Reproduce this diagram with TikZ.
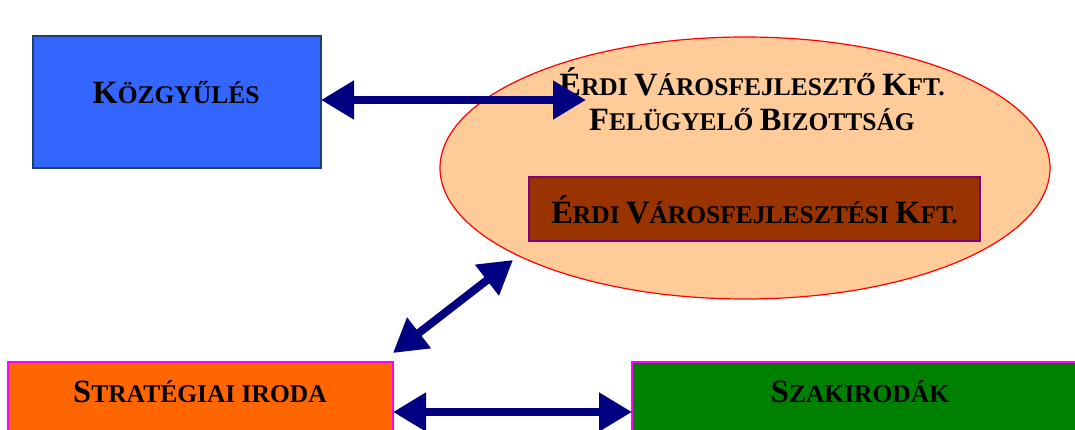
\documentclass[tikz,border=0pt]{standalone}
\usepackage{fontspec}
\setmainfont{Liberation Serif}
\usetikzlibrary{arrows.meta,shapes.geometric}
\newcommand\Cap[1]{{\fontsize{32.5}{34}\selectfont #1}}
\definecolor{navy}{HTML}{000080}
\definecolor{kblue}{HTML}{3366FF}
\definecolor{kborder}{HTML}{1F3F6F}
\definecolor{peach}{HTML}{FFCC99}
\definecolor{brownbox}{HTML}{993300}
\definecolor{purp}{HTML}{800080}
\definecolor{orangebox}{HTML}{FF6600}
\definecolor{greenbox}{HTML}{008000}
\definecolor{mag}{HTML}{FF00FF}
\tikzset{
  lbl/.style={font=\fontsize{25.5}{35}\selectfont\bfseries, text=black, align=center},
  box/.style={draw, line width=1.2pt, inner sep=0pt},
  dbl/.style={navy, line width=8pt, {Triangle[length=33pt,width=37pt]}-{Triangle[length=33pt,width=37pt]}}
}
\begin{document}
\begin{tikzpicture}[x=1pt,y=-1pt]
\useasboundingbox (0,0) rectangle (1075,430);
% ellipse
\node[ellipse, draw=red, line width=1.2pt, fill=peach, minimum width=610pt, minimum height=262pt, inner sep=0pt] (ell) at (745,168) {};
% Kozgyules
\node[box, draw=kborder, fill=kblue, minimum width=288pt, minimum height=132pt] (koz) at (177,102) {};
\node[lbl] (kozt) at (176,93) {\Cap{K}ÖZGYŰLÉS};
% ellipse text
\node[lbl] (fb) at (752,99) {\Cap{É}RDI \Cap{V}ÁROSFEJLESZTŐ \Cap{K}FT.\\\Cap{F}ELÜGYELŐ \Cap{B}IZOTTSÁG};
% brown box
\node[box, draw=purp, fill=brownbox, minimum width=451pt, minimum height=64pt] (kft) at (754.5,209) {};
\node[lbl] (kftt) at (754.5,210) {\Cap{É}RDI \Cap{V}ÁROSFEJLESZTÉSI \Cap{K}FT.};
% orange
\node[box, draw=mag, fill=orangebox, minimum width=385pt, minimum height=80pt] (str) at (200.5,402) {};
\node[lbl] (strt) at (200,392) {\Cap{S}TRATÉGIAI IRODA};
% green
\node[box, draw=mag, fill=greenbox, minimum width=445pt, minimum height=80pt] (szak) at (854.5,402) {};
\node[lbl] (szakt) at (860,392) {\Cap{S}ZAKIRODÁK};
% connectors
\coordinate (a1) at (321,100);
\coordinate (a2) at (586,100);
\coordinate (b1) at (393,353);
\coordinate (b2) at (513,260);
\coordinate (c1) at (393,412);
\coordinate (c2) at (632,412);
\draw[dbl] (a1) -- (a2);
\draw[dbl] (b1) -- (b2);
\draw[dbl] (c1) -- (c2);
\end{tikzpicture}
\end{document}
